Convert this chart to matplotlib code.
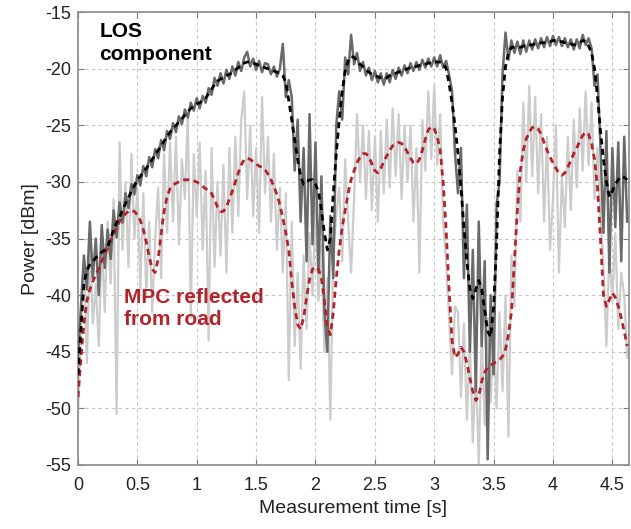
import numpy as np
import matplotlib.pyplot as plt

plt.rcParams['font.family'] = ['Liberation Sans', 'DejaVu Sans']
plt.rcParams['axes.unicode_minus'] = False

# sample times [s]
t = np.arange(186) * 0.025

# LOS component: raw and smoothed power [dBm]
los_raw = [
    -45.5, -41.0, -36.5, -39.5, -33.5, -38.5, -35.0, -40.0,
    -33.8, -37.6, -34.2, -36.8, -32.5, -34.9, -31.8, -33.6,
    -31.0, -32.3, -30.2, -31.1, -29.4, -30.3, -28.6, -29.5,
    -27.8, -28.7, -27.1, -27.9, -26.3, -27.2, -25.5, -26.2,
    -24.8, -25.6, -24.2, -24.9, -23.6, -24.3, -23.0, -23.7,
    -22.6, -23.5, -22.4, -23.0, -21.7, -22.3, -20.8, -21.5,
    -20.4, -21.3, -20.1, -20.9, -19.8, -20.6, -19.4, -20.2,
    -19.0, -18.5, -19.8, -19.1, -20.1, -19.3, -20.3, -19.5,
    -19.6, -20.5, -19.8, -20.7, -20.0, -17.8, -22.5, -21.0,
    -22.5, -29.0, -24.5, -33.5, -27.0, -37.0, -24.0, -35.5,
    -26.5, -38.0, -29.5, -41.5, -45.0, -33.0, -38.5, -25.0,
    -22.0, -24.5, -19.0, -20.5, -17.0, -19.6, -18.6, -20.2,
    -19.4, -20.6, -19.9, -21.0, -20.2, -21.2, -20.4, -21.4,
    -20.4, -21.2, -20.1, -20.9, -19.9, -20.6, -19.7, -20.4,
    -19.5, -20.2, -19.4, -20.1, -19.2, -19.9, -19.1, -19.8,
    -19.0, -19.8, -18.8, -19.9, -19.3, -20.5, -22.0, -27.5,
    -31.0, -27.0, -38.5, -32.0, -45.0, -36.0, -48.5, -33.5,
    -44.5, -37.0, -54.5, -40.0, -47.0, -32.0, -30.0, -20.5,
    -16.8, -19.2, -17.5, -18.6, -17.6, -18.7, -17.5, -18.5,
    -17.5, -18.3, -17.4, -18.2, -17.3, -18.1, -17.2, -18.0,
    -17.1, -17.9, -17.2, -18.0, -17.3, -18.1, -17.4, -18.3,
    -17.4, -18.2, -17.0, -17.9, -17.3, -18.2, -21.5, -20.5,
    -27.0, -34.5, -25.5, -38.0, -27.0, -34.0, -26.5, -37.0,
    -26.0, -33.5,
]
los_smooth = [
    -47.0, -43.0, -39.0, -37.8, -37.3, -37.0, -36.7, -36.5,
    -36.2, -36.0, -35.7, -35.0, -34.2, -33.6, -33.1, -32.5,
    -31.9, -31.4, -30.8, -30.3, -29.8, -29.5, -29.1, -28.8,
    -28.4, -28.0, -27.6, -27.2, -26.8, -26.4, -26.0, -25.6,
    -25.3, -25.0, -24.7, -24.4, -24.1, -23.8, -23.5, -23.3,
    -23.1, -23.0, -22.8, -22.6, -22.2, -21.8, -21.4, -21.1,
    -20.9, -20.8, -20.6, -20.5, -20.3, -20.1, -19.9, -19.7,
    -19.5, -19.4, -19.4, -19.5, -19.6, -19.7, -19.8, -19.9,
    -20.0, -20.1, -20.2, -20.3, -20.4, -20.6, -21.2, -22.8,
    -24.5, -26.3, -28.0, -29.5, -30.2, -30.0, -29.8, -29.8,
    -30.2, -30.8, -32.5, -34.5, -36.0, -35.0, -31.0, -27.5,
    -24.5, -22.0, -20.2, -19.3, -18.9, -19.0, -19.3, -19.6,
    -19.8, -20.1, -20.3, -20.5, -20.6, -20.7, -20.8, -20.9,
    -20.8, -20.6, -20.5, -20.4, -20.3, -20.2, -20.1, -20.0,
    -19.9, -19.8, -19.8, -19.7, -19.6, -19.6, -19.5, -19.5,
    -19.4, -19.4, -19.4, -19.5, -20.0, -21.3, -23.0, -25.0,
    -27.5, -30.5, -34.0, -37.0, -39.5, -40.3, -39.5, -38.7,
    -39.5, -41.3, -43.2, -43.7, -41.0, -35.5, -27.5, -22.5,
    -19.8, -18.6, -18.1, -18.1, -18.1, -18.1, -18.0, -18.0,
    -17.9, -17.9, -17.8, -17.8, -17.7, -17.7, -17.6, -17.6,
    -17.5, -17.5, -17.6, -17.6, -17.7, -17.7, -17.8, -17.9,
    -17.8, -17.7, -17.5, -17.6, -18.0, -18.6, -20.0, -22.5,
    -25.5, -28.0, -30.0, -31.3, -30.8, -30.2, -29.8, -29.5,
    -29.6, -29.8,
]

# MPC reflected from road: raw and smoothed power [dBm]
mpc_raw = [
    -50.5, -43.0, -37.0, -46.0, -35.5, -42.5, -39.0, -44.5,
    -35.0, -41.5, -33.5, -39.0, -31.5, -50.5, -26.5, -36.0,
    -30.0, -37.5, -27.5, -35.0, -30.5, -39.5, -31.0, -40.0,
    -33.5, -41.5, -35.0, -30.5, -38.5, -27.5, -34.5, -26.5,
    -33.5, -26.0, -35.5, -28.0, -31.5, -24.0, -42.0, -27.5,
    -33.0, -26.5, -36.0, -29.0, -44.0, -27.0, -37.5, -30.0,
    -36.5, -28.5, -38.0, -27.0, -34.5, -26.0, -33.0, -24.5,
    -22.0, -31.5, -25.0, -33.0, -27.0, -34.5, -22.5, -31.0,
    -26.0, -33.5, -27.5, -36.0, -30.5, -38.0, -31.0, -47.5,
    -33.5, -44.5, -38.0, -46.5, -36.5, -43.0, -34.5, -40.0,
    -32.0, -40.5, -35.5, -45.0, -38.5, -51.0, -36.0, -33.0,
    -30.5, -37.0, -28.0, -33.5, -38.0, -31.5, -24.0, -30.0,
    -25.0, -31.5, -25.5, -32.5, -26.0, -33.5, -25.5, -31.0,
    -24.5, -30.5, -23.5, -29.5, -24.0, -31.5, -25.0, -30.0,
    -25.0, -33.5, -27.0, -38.0, -24.5, -29.0, -22.0, -28.0,
    -21.5, -28.5, -24.0, -33.5, -37.0, -42.0, -47.0, -41.0,
    -41.5, -49.0, -42.5, -51.0, -44.0, -53.0, -46.0, -55.0,
    -43.5, -51.5, -42.0, -49.5, -43.0, -50.0, -41.5, -48.5,
    -40.0, -52.5, -36.5, -41.0, -29.0, -33.5, -23.0, -30.0,
    -21.5, -29.5, -22.5, -31.0, -24.0, -33.5, -26.0, -36.0,
    -31.5, -25.0, -38.0, -29.5, -34.0, -26.0, -32.5, -24.5,
    -30.5, -23.5, -29.0, -22.0, -28.5, -23.0, -31.5, -27.0,
    -33.0, -37.5, -44.5, -36.0, -40.5, -34.5, -43.0, -38.0,
    -40.0, -45.5,
]
mpc_smooth = [
    -49.0, -45.5, -42.5, -40.5, -39.5, -38.8, -38.2, -37.6,
    -37.0, -36.4, -35.8, -35.2, -34.6, -34.0, -33.5, -33.1,
    -32.8, -32.6, -32.5, -32.6, -32.9, -33.4, -34.2, -35.3,
    -36.6, -37.7, -38.0, -36.8, -34.6, -32.6, -31.3, -30.6,
    -30.3, -30.1, -30.0, -29.9, -29.8, -29.8, -29.8, -29.9,
    -30.0, -30.2, -30.4, -30.6, -30.7, -31.0, -31.6, -32.2,
    -32.6, -32.6, -32.2, -31.5, -30.8, -30.0, -29.2, -28.5,
    -28.0, -27.9, -28.0, -28.2, -28.4, -28.6, -28.7, -28.9,
    -29.3, -29.8, -30.4, -31.1, -32.0, -33.2, -34.5, -36.0,
    -38.8, -41.0, -42.6, -43.0, -42.0, -40.2, -38.6, -37.7,
    -37.5, -37.7, -38.5, -40.5, -42.8, -43.5, -41.5, -38.5,
    -36.0, -34.0, -32.5, -31.0, -29.8, -29.0, -28.3, -27.8,
    -27.5, -27.5, -27.8, -28.4, -29.0, -29.2, -28.8, -28.2,
    -27.7, -27.2, -26.8, -26.6, -26.5, -26.6, -26.9, -27.4,
    -27.9, -28.3, -28.4, -28.0, -27.2, -26.2, -25.4, -25.1,
    -25.3, -26.0, -27.2, -30.0, -34.2, -39.5, -44.0, -45.5,
    -45.2, -44.6, -45.0, -46.0, -47.3, -48.5, -49.3, -48.9,
    -47.6, -46.8, -46.4, -46.2, -46.0, -45.9, -45.7, -45.4,
    -44.8, -43.5, -41.5, -37.0, -32.5, -29.0, -27.2, -26.2,
    -25.6, -25.2, -25.1, -25.3, -25.8, -26.5, -27.2, -27.8,
    -28.3, -28.8, -29.2, -29.4, -29.2, -28.7, -28.1, -27.5,
    -27.0, -26.4, -25.9, -25.6, -25.8, -26.6, -28.0, -30.5,
    -35.0, -40.0, -41.0, -40.4, -39.8, -40.2, -41.0, -42.0,
    -43.2, -44.5,
]

x_ticks = [0, 0.5, 1, 1.5, 2, 2.5, 3, 3.5, 4, 4.5]
x_tick_labels = ["0", "0.5", "1", "1.5", "2", "2.5", "3", "3.5", "4", "4.5"]
y_ticks = [-55, -50, -45, -40, -35, -30, -25, -20, -15]

fig = plt.figure(figsize=(6.31, 5.29), dpi=100)
ax = fig.add_axes([0.1236, 0.121, 0.8732, 0.856])

ax.plot(t, mpc_raw, color="#cccccc", lw=1.6, zorder=2)
ax.plot(t, los_raw, color="#6a6a6a", lw=1.8, zorder=3)
ax.plot(t, mpc_smooth, color="#b5232a", lw=2.0, ls=(0, (2.2, 1.6)), zorder=4)
ax.plot(t, los_smooth, color="black", lw=2.0, ls=(0, (2.2, 1.6)), zorder=5)

ax.text(0.18, -15.9, "LOS\ncomponent", fontsize=15, fontweight="bold",
        color="black", va="top", ha="left", linespacing=1.25, zorder=6)
ax.text(0.39, -39.4, "MPC reflected\nfrom road", fontsize=15, fontweight="bold",
        color="#b5232a", va="top", ha="left", linespacing=1.2, zorder=6)

ax.set_xlim(0, 4.64)
ax.set_ylim(-55, -15)
ax.set_xticks(x_ticks)
ax.set_xticklabels(x_tick_labels)
ax.set_yticks(y_ticks)
ax.tick_params(direction="in", top=True, right=True, length=4, width=0.8,
               color="#7a7a7a", labelsize=13, labelcolor="#222222")
ax.tick_params(axis="x", pad=9)
ax.tick_params(axis="y", pad=5)
ax.grid(True, color="#c4c4c4", ls=(0, (3, 3)), lw=0.8)
ax.set_axisbelow(True)
for s in ax.spines.values():
    s.set_color("#8a8a8a")
    s.set_linewidth(1.2)

ax.set_xlabel("Measurement time [s]", fontsize=14, color="#222222", labelpad=4)
ax.set_ylabel("Power [dBm]", fontsize=14, color="#222222", labelpad=4)

fig.savefig("out.png", dpi=100)
